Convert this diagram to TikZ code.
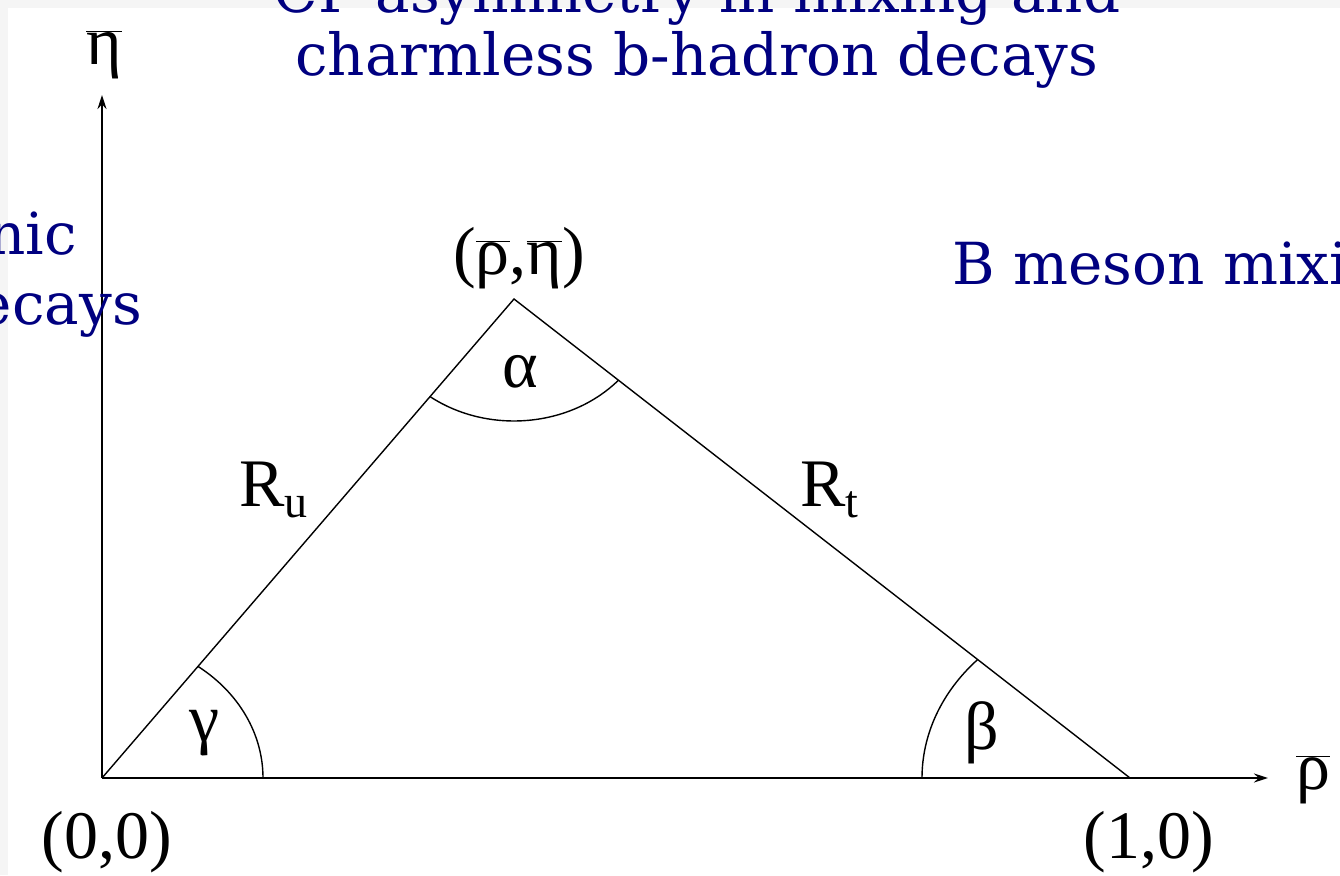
\documentclass[tikz,border=0pt]{standalone}
\usepackage{fontspec}
\setmainfont{Liberation Serif}
\newfontfamily\bluefont{DejaVu Serif}
\usetikzlibrary{arrows.meta}
\definecolor{navy}{RGB}{0,0,128}
\definecolor{bggrey}{RGB}{245,245,245}
\newcommand\ovl[1]{$\overline{\hbox{#1}}$}
\begin{document}
\begin{tikzpicture}[x=1pt,y=1pt,
  bluetxt/.style={font=\bluefont\fontsize{58}{60}\selectfont, text=navy, inner sep=0pt},
  lab/.style={font=\fontsize{68}{80}\selectfont, inner sep=0pt},
  axis/.style={line width=1.9pt, -{Stealth[length=14pt,width=9pt]}},
  side/.style={line width=1.4pt},
  angarc/.style={line width=1.4pt}]
\useasboundingbox (0,0) rectangle (1340,875);
\clip (0,0) rectangle (1340,875);
\fill[bggrey] (0,0) rectangle (1340,875);
\fill[white] (8,0) rectangle (1340,867);
% points
\coordinate (O) at (102,97);
\coordinate (P) at (1130,97);
\coordinate (A) at (514,576);
\coordinate (X) at (1268,97);
\coordinate (Y) at (102,780);
% axes and triangle
\draw[axis] (O) -- (X);
\draw[axis] (O) -- (Y);
\draw[side] (O) -- (A) -- (P);
% angle arcs
\draw[angarc] (O) ++(161,0) arc[start angle=0, end angle=53.4, x radius=161, y radius=139];
\draw[angarc] (P) ++(-208,0) arc[start angle=180, end angle=137.1, x radius=208, y radius=174];
\draw[angarc] (A) ++(233.1:140 and 122) arc[start angle=233.1, end angle=318.3, x radius=140, y radius=122];
% labels
\node[lab, anchor=base] (eta) at (104,810) {\ovl{η}};
\node[lab, anchor=base] (rho) at (1313,85) {\ovl{ρ}};
\node[lab, anchor=base] (apexlab) at (519,600) {(\ovl{ρ},\ovl{η})};
\node[lab, anchor=base] (orig) at (107,17) {(0,0)};
\node[lab, anchor=base] (one) at (1149,17) {(1,0)};
\node[lab, anchor=base] (alpha) at (520,487) {α};
\node[lab, anchor=base] (gamma) at (205,133) {γ};
\node[lab, anchor=base] (beta) at (982,125) {β};
\node[lab, anchor=base west] (ru) at (239,368) {R\lower11pt\hbox{\fontsize{46}{50}\selectfont u}};
\node[lab, anchor=base west] (rt) at (800,368) {R\lower11pt\hbox{\fontsize{46}{50}\selectfont t}};
% blue texts
\node[bluetxt, anchor=base] (l1) at (697,862) {CP asymmetry in mixing and};
\node[bluetxt, anchor=base] (l2) at (697,799) {charmless b-hadron decays};
\node[bluetxt, anchor=base west] (bm) at (952,590) {B meson mixing};
\node[bluetxt, anchor=base east] (nic) at (77,620) {nic};
\node[bluetxt, anchor=base east] (ecays) at (142,550) {ecays};
\end{tikzpicture}
\end{document}
